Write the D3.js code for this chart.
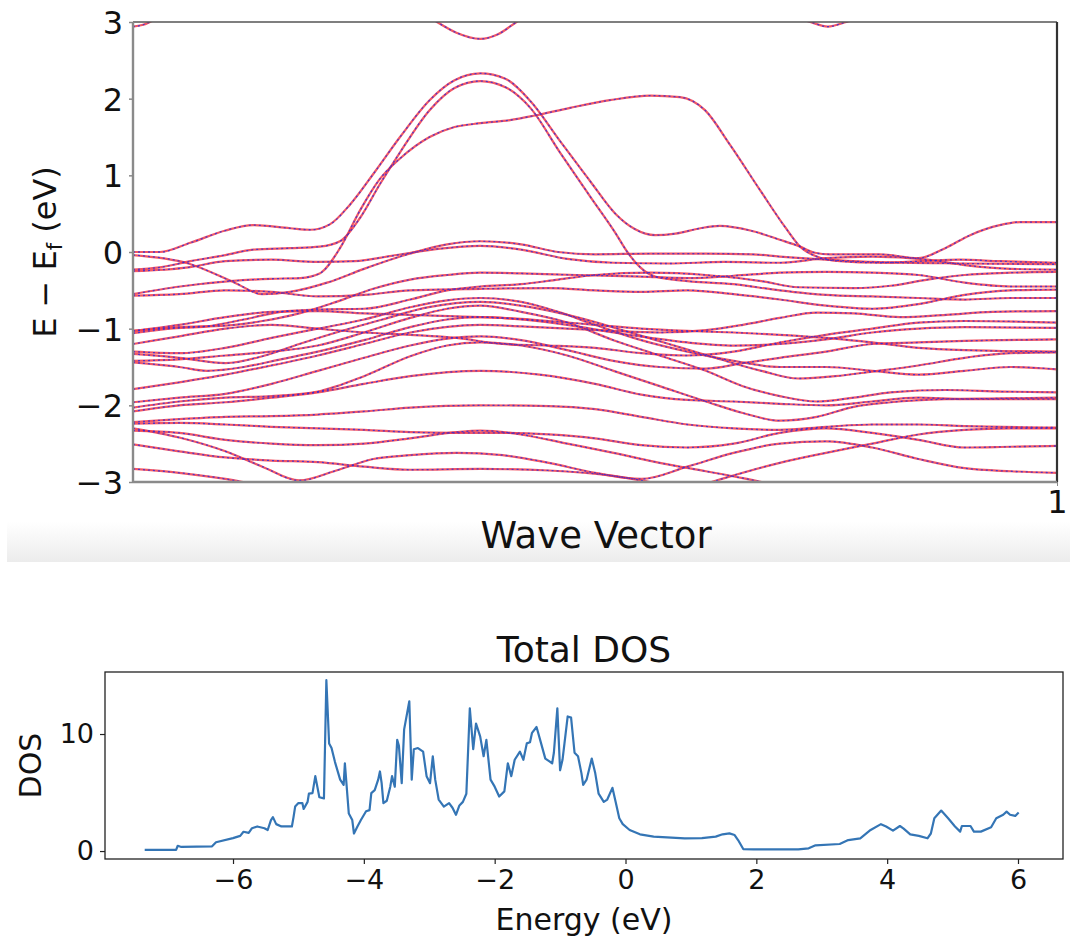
<!DOCTYPE html>
<html><head><meta charset="utf-8">
<script src="https://cdn.jsdelivr.net/npm/d3@7"></script>
<style>body{margin:0;background:#fff;} svg{display:block;font-family:"DejaVu Sans",sans-serif;}</style>
</head><body><svg id="c" width="1070" height="942"></svg>
<script>
// ---------- Band structure data: [k, E - Ef] knots ----------
const bandCT  = [[0,2.94],[0.01,2.96],[0.02,3.01],[0.035,3.1]];
const bandCD1 = [[0.31,3.15],[0.329,3.0],[0.35,2.86],[0.376,2.78],[0.395,2.84],[0.415,3.0],[0.435,3.15]];
const bandCD2 = [[0.72,3.05],[0.733,3.0],[0.752,2.94],[0.772,3.0],[0.785,3.05]];
const bandA = [[0,0.0],[0.029,0.0],[0.062,0.12],[0.1,0.28],[0.13,0.35],[0.17,0.31],[0.192,0.29],[0.213,0.36],[0.235,0.62],[0.262,1.05],[0.289,1.5],[0.321,1.98],[0.348,2.24],[0.376,2.33],[0.403,2.26],[0.43,1.97],[0.462,1.45],[0.495,0.92],[0.522,0.5],[0.543,0.3],[0.565,0.22],[0.587,0.24],[0.614,0.31],[0.635,0.34],[0.668,0.28],[0.7,0.16],[0.722,0.07],[0.738,-0.01],[0.754,-0.03],[0.808,-0.03],[0.85,-0.08],[0.879,0.05],[0.906,0.22],[0.938,0.35],[0.96,0.39],[1,0.39]];
const bandB = [[0,-0.23],[0.029,-0.2],[0.062,-0.12],[0.1,-0.04],[0.13,0.03],[0.17,0.05],[0.202,0.07],[0.224,0.14],[0.246,0.45],[0.267,0.88],[0.289,1.3],[0.321,1.85],[0.348,2.14],[0.376,2.23],[0.403,2.15],[0.43,1.88],[0.462,1.3],[0.495,0.72],[0.522,0.25],[0.535,0.0],[0.549,-0.2],[0.565,-0.32],[0.592,-0.37],[0.65,-0.42],[0.7,-0.5],[0.75,-0.56],[0.8,-0.58],[0.85,-0.6],[0.9,-0.62],[0.95,-0.6],[1,-0.6]];
const bandP = [[0,-0.55],[0.051,-0.45],[0.105,-0.38],[0.148,-0.35],[0.181,-0.34],[0.202,-0.28],[0.224,0.05],[0.246,0.55],[0.267,0.95],[0.289,1.22],[0.321,1.5],[0.348,1.63],[0.376,1.68],[0.408,1.72],[0.435,1.78],[0.473,1.88],[0.516,1.98],[0.56,2.04],[0.592,2.02],[0.619,1.85],[0.646,1.4],[0.679,0.8],[0.706,0.32],[0.722,0.07],[0.738,-0.05],[0.765,-0.12],[0.808,-0.14],[0.852,-0.12],[0.895,-0.1],[0.938,-0.12],[1,-0.14]];
const bandV1 = [[0,-0.04],[0.06,-0.15],[0.11,-0.4],[0.14,-0.55],[0.17,-0.52],[0.21,-0.4],[0.25,-0.22],[0.3,-0.02],[0.34,0.1],[0.376,0.14],[0.42,0.1],[0.46,0.0],[0.5,-0.03],[0.56,-0.02],[0.62,-0.02],[0.67,-0.03],[0.7,-0.06],[0.75,-0.1],[0.8,-0.13],[0.9,-0.15],[1,-0.16]];
const bandV2 = [[0,-0.25],[0.06,-0.2],[0.1,-0.12],[0.15,-0.1],[0.2,-0.13],[0.24,-0.12],[0.28,-0.05],[0.33,0.04],[0.376,0.08],[0.42,0.03],[0.47,-0.09],[0.52,-0.14],[0.58,-0.15],[0.64,-0.13],[0.7,-0.14],[0.75,-0.08],[0.8,-0.06],[0.86,-0.1],[0.9,-0.17],[0.95,-0.22],[1,-0.23]];
const bandV3 = [[0,-1.03],[0.05,-0.98],[0.1,-0.96],[0.14,-0.9],[0.18,-0.8],[0.22,-0.65],[0.26,-0.48],[0.3,-0.36],[0.34,-0.3],[0.376,-0.27],[0.42,-0.28],[0.48,-0.3],[0.55,-0.32],[0.6,-0.34],[0.65,-0.31],[0.7,-0.27],[0.75,-0.26],[0.8,-0.27],[0.85,-0.3],[0.9,-0.4],[0.95,-0.45],[1,-0.45]];
const bandV4 = [[0,-1.06],[0.04,-1.0],[0.08,-0.97],[0.12,-0.88],[0.16,-0.78],[0.2,-0.75],[0.25,-0.74],[0.3,-0.62],[0.34,-0.5],[0.376,-0.45],[0.42,-0.42],[0.46,-0.36],[0.5,-0.3],[0.56,-0.27],[0.62,-0.3],[0.68,-0.38],[0.72,-0.46],[0.78,-0.47],[0.82,-0.44],[0.86,-0.36],[0.9,-0.3],[0.95,-0.27],[1,-0.26]];
const bandV5 = [[0,-1.3],[0.05,-1.32],[0.1,-1.25],[0.15,-1.12],[0.2,-1.0],[0.25,-0.88],[0.3,-0.72],[0.34,-0.63],[0.376,-0.6],[0.42,-0.65],[0.46,-0.78],[0.5,-0.95],[0.55,-1.15],[0.6,-1.3],[0.65,-1.42],[0.7,-1.5],[0.75,-1.5],[0.8,-1.55],[0.85,-1.6],[0.9,-1.55],[0.95,-1.5],[1,-1.53]];
const bandV6 = [[0,-1.33],[0.05,-1.38],[0.1,-1.45],[0.14,-1.36],[0.18,-1.2],[0.22,-1.05],[0.27,-0.88],[0.32,-0.72],[0.376,-0.65],[0.43,-0.72],[0.48,-0.85],[0.53,-1.02],[0.58,-1.2],[0.63,-1.38],[0.68,-1.55],[0.72,-1.65],[0.76,-1.62],[0.8,-1.56],[0.85,-1.48],[0.9,-1.38],[0.95,-1.32],[1,-1.31]];
const bandV7 = [[0,-1.42],[0.05,-1.4],[0.1,-1.35],[0.15,-1.3],[0.2,-1.22],[0.25,-1.05],[0.3,-0.86],[0.34,-0.74],[0.376,-0.7],[0.42,-0.78],[0.47,-0.92],[0.52,-1.15],[0.57,-1.35],[0.62,-1.55],[0.66,-1.75],[0.7,-1.88],[0.74,-1.95],[0.78,-1.9],[0.82,-1.83],[0.88,-1.8],[0.94,-1.82],[1,-1.83]];
const bandV8 = [[0,-1.44],[0.05,-1.5],[0.08,-1.55],[0.12,-1.5],[0.16,-1.4],[0.2,-1.3],[0.25,-1.15],[0.3,-0.98],[0.34,-0.88],[0.376,-0.85],[0.42,-0.88],[0.47,-0.95],[0.52,-1.05],[0.56,-1.12],[0.6,-1.18],[0.65,-1.22],[0.7,-1.2],[0.75,-1.14],[0.8,-1.05],[0.85,-1.0],[0.9,-0.98],[1,-0.99]];
const bandV9 = [[0,-1.79],[0.05,-1.7],[0.1,-1.6],[0.15,-1.48],[0.2,-1.35],[0.25,-1.2],[0.3,-1.05],[0.376,-0.95],[0.42,-0.97],[0.47,-1.0],[0.52,-1.03],[0.57,-1.05],[0.62,-1.02],[0.66,-0.95],[0.7,-0.86],[0.74,-0.79],[0.78,-0.8],[0.83,-0.85],[0.88,-0.82],[0.93,-0.78],[1,-0.77]];
const bandV10 = [[0,-1.96],[0.05,-1.9],[0.1,-1.85],[0.15,-1.72],[0.2,-1.55],[0.25,-1.38],[0.3,-1.22],[0.34,-1.13],[0.376,-1.1],[0.42,-1.15],[0.47,-1.28],[0.52,-1.42],[0.57,-1.5],[0.62,-1.52],[0.66,-1.45],[0.7,-1.38],[0.75,-1.3],[0.8,-1.2],[0.85,-1.18],[0.9,-1.16],[1,-1.14]];
const bandV11 = [[0,-2.03],[0.05,-1.95],[0.1,-1.9],[0.15,-1.88],[0.2,-1.82],[0.25,-1.62],[0.3,-1.36],[0.34,-1.22],[0.376,-1.18],[0.42,-1.22],[0.47,-1.35],[0.52,-1.55],[0.57,-1.75],[0.62,-1.95],[0.66,-2.1],[0.7,-2.2],[0.74,-2.15],[0.78,-2.02],[0.82,-1.96],[0.88,-1.92],[0.94,-1.91],[1,-1.9]];
const bandV12 = [[0,-2.08],[0.05,-2.0],[0.1,-1.96],[0.15,-1.9],[0.2,-1.83],[0.25,-1.72],[0.3,-1.62],[0.376,-1.55],[0.44,-1.6],[0.5,-1.72],[0.55,-1.86],[0.6,-1.93],[0.65,-1.95],[0.7,-1.98],[0.75,-2.0],[0.8,-1.95],[0.85,-1.9],[0.9,-1.92],[1,-1.92]];
const bandV13 = [[0,-2.22],[0.05,-2.18],[0.1,-2.15],[0.15,-2.14],[0.2,-2.12],[0.25,-2.08],[0.3,-2.03],[0.376,-2.0],[0.45,-2.01],[0.5,-2.05],[0.55,-2.15],[0.6,-2.25],[0.65,-2.3],[0.7,-2.32],[0.75,-2.28],[0.8,-2.25],[0.85,-2.25],[0.9,-2.27],[1,-2.29]];
const bandV14 = [[0,-2.24],[0.05,-2.23],[0.1,-2.25],[0.15,-2.28],[0.2,-2.3],[0.25,-2.32],[0.3,-2.35],[0.35,-2.36],[0.4,-2.36],[0.45,-2.38],[0.5,-2.43],[0.55,-2.52],[0.6,-2.55],[0.65,-2.5],[0.7,-2.36],[0.75,-2.3],[0.8,-2.36],[0.85,-2.45],[0.9,-2.55],[0.95,-2.54],[1,-2.53]];
const bandV15 = [[0,-2.3],[0.05,-2.42],[0.1,-2.6],[0.14,-2.8],[0.18,-2.98],[0.22,-2.85],[0.26,-2.7],[0.3,-2.65],[0.35,-2.62],[0.4,-2.65],[0.45,-2.75],[0.5,-2.88],[0.55,-2.96],[0.6,-2.8],[0.65,-2.62],[0.7,-2.5],[0.75,-2.47],[0.8,-2.55],[0.85,-2.7],[0.9,-2.82],[0.95,-2.86],[1,-2.88]];
const bandV16 = [[0,-2.33],[0.05,-2.36],[0.1,-2.45],[0.15,-2.5],[0.2,-2.52],[0.25,-2.5],[0.3,-2.43],[0.35,-2.35],[0.376,-2.33],[0.42,-2.38],[0.47,-2.5],[0.52,-2.62],[0.57,-2.75],[0.62,-2.86],[0.66,-2.95],[0.7,-3.05],[0.72,-3.1]];
const bandV17 = [[0,-2.51],[0.05,-2.6],[0.1,-2.68],[0.15,-2.72],[0.2,-2.74],[0.25,-2.8],[0.3,-2.84],[0.376,-2.83],[0.45,-2.85],[0.52,-2.92],[0.58,-3.05],[0.6,-3.1]];
const bandV18 = [[0,-2.83],[0.05,-2.88],[0.1,-2.96],[0.14,-3.05],[0.16,-3.1]];
const bandV19 = [[0.6,-3.1],[0.64,-2.95],[0.7,-2.75],[0.75,-2.62],[0.8,-2.5],[0.85,-2.38],[0.9,-2.32],[0.95,-2.3],[1,-2.3]];
const bandV20 = [[0,-0.57],[0.05,-0.55],[0.1,-0.5],[0.15,-0.52],[0.2,-0.58],[0.25,-0.56],[0.3,-0.5],[0.376,-0.48],[0.45,-0.47],[0.5,-0.5],[0.55,-0.52],[0.6,-0.5],[0.65,-0.55],[0.7,-0.62],[0.75,-0.7],[0.8,-0.74],[0.85,-0.68],[0.9,-0.56],[0.95,-0.5],[1,-0.49]];
const bandV21 = [[0,-1.2],[0.05,-1.1],[0.1,-1.0],[0.15,-0.95],[0.2,-1.0],[0.25,-1.05],[0.3,-1.08],[0.35,-1.12],[0.4,-1.2],[0.45,-1.22],[0.5,-1.25],[0.55,-1.32],[0.6,-1.35],[0.65,-1.3],[0.7,-1.18],[0.75,-1.08],[0.8,-1.0],[0.85,-0.92],[0.9,-0.9],[1,-0.92]];
const bandV22 = [[0,-1.03],[0.05,-0.95],[0.1,-0.85],[0.15,-0.78],[0.2,-0.77],[0.25,-0.8],[0.3,-0.82],[0.35,-0.84],[0.4,-0.86],[0.45,-0.9],[0.5,-0.95],[0.55,-1.0],[0.6,-1.03],[0.65,-1.05],[0.7,-1.08],[0.75,-1.12],[0.8,-1.18],[0.85,-1.25],[0.9,-1.28],[1,-1.3]];
const bands = [bandCT,bandCD1,bandCD2,bandA,bandB,bandP,bandV1,bandV2,bandV3,bandV4,bandV5,bandV6,bandV7,bandV8,bandV9,bandV10,bandV11,bandV12,bandV13,bandV14,bandV15,bandV16,bandV17,bandV18,bandV19,bandV20,bandV21,bandV22];
const energyTicks = [-3,-2,-1,0,1,2,3];
const kTicks = [1];

// ---------- Total DOS data ----------
const dosEnergy = [-7.35,-6.87,-6.845,-6.79,-6.32,-6.26,-6.0,-5.89,-5.84,-5.76,-5.71,-5.63,-5.52,-5.47,-5.42,-5.39,-5.34,-5.26,-5.10,-5.075,-5.05,-5.0,-4.94,-4.92,-4.86,-4.84,-4.785,-4.742,-4.68,-4.61,-4.573,-4.531,-4.494,-4.441,-4.362,-4.309,-4.29,-4.23,-4.177,-4.151,-4.098,-4.045,-3.966,-3.913,-3.886,-3.834,-3.781,-3.754,-3.728,-3.701,-3.649,-3.596,-3.569,-3.527,-3.49,-3.464,-3.421,-3.384,-3.305,-3.268,-3.236,-3.173,-3.094,-3.041,-2.988,-2.946,-2.909,-2.856,-2.777,-2.697,-2.645,-2.592,-2.539,-2.486,-2.433,-2.38,-2.328,-2.285,-2.222,-2.169,-2.127,-2.063,-2.0,-1.931,-1.852,-1.799,-1.746,-1.694,-1.614,-1.561,-1.509,-1.46,-1.429,-1.36,-1.305,-1.226,-1.174,-1.121,-1.095,-1.042,-1.0,-0.963,-0.884,-0.832,-0.779,-0.726,-0.674,-0.647,-0.595,-0.516,-0.463,-0.411,-0.332,-0.279,-0.2,-0.147,-0.095,-0.042,0.063,0.221,0.43,0.905,1.168,1.379,1.484,1.589,1.668,1.721,1.8,1.958,2.642,2.8,2.905,3.274,3.405,3.589,3.747,3.905,3.984,4.089,4.195,4.247,4.353,4.484,4.616,4.668,4.721,4.826,4.932,5.037,5.116,5.142,5.274,5.326,5.432,5.589,5.668,5.774,5.826,5.879,5.958,6.01];
const dosValue = [0.1,0.1,0.45,0.35,0.4,0.75,1.1,1.3,1.65,1.55,1.95,2.1,1.95,1.8,2.65,2.9,2.3,2.1,2.1,2.9,3.8,4.1,4.1,3.6,4.2,4.9,4.95,6.4,4.6,4.5,14.6,9.2,8.8,7.6,6.1,5.65,7.5,3.2,2.65,1.5,2.1,2.65,3.4,3.5,4.95,5.2,6.1,6.8,5.8,4.1,4.3,5.5,6.4,5.5,9.5,9.0,5.8,10.4,12.8,6.1,8.7,8.8,8.5,6.4,5.8,8.1,6.1,4.4,3.8,4.1,3.7,3.1,3.9,4.2,4.9,12.2,8.7,10.9,9.8,8.1,9.5,6.1,5.5,4.66,5.1,7.5,6.4,7.8,8.5,7.8,9.2,9.3,10.1,10.6,9.5,7.9,7.7,7.5,8.4,12.2,6.9,7.8,11.5,11.4,8.4,8.1,6.66,5.66,6.1,7.9,6.66,4.9,4.2,4.4,5.4,4.1,2.8,2.3,1.8,1.43,1.23,1.09,1.1,1.23,1.43,1.51,1.37,0.94,0.17,0.14,0.14,0.23,0.49,0.6,0.94,1.09,1.8,2.3,2.1,1.74,2.14,1.94,1.43,1.3,1.09,1.5,2.8,3.46,2.8,2.1,1.66,2.14,2.14,1.66,1.66,2.03,2.8,3.1,3.37,3.1,3.0,3.29];
const dosXTicks = [-6,-4,-2,0,2,4,6];
const dosYTicks = [0,10];

// ---------- Drawing ----------
const svg = d3.select("#c");
const fmt = d => d < 0 ? "\u2212" + Math.abs(d) : String(d);
const defs = svg.append("defs");

// gray band under top figure
const grad = defs.append("linearGradient").attr("id","gband").attr("x1",0).attr("y1",0).attr("x2",0).attr("y2",1);
grad.append("stop").attr("offset","0%").attr("stop-color","#ffffff");
grad.append("stop").attr("offset","100%").attr("stop-color","#ececec");
svg.append("rect").attr("x",7).attr("y",522).attr("width",1063).attr("height",40).attr("fill","url(#gband)");

// ---- Top panel
const T = {l:133, r:1057, t:22, b:482};
const xk = d3.scaleLinear().domain([0,1]).range([T.l,T.r]);
const yE = d3.scaleLinear().domain([-3,3]).range([T.b,T.t]);
defs.append("clipPath").attr("id","clipTop").append("rect")
  .attr("x",T.l).attr("y",T.t).attr("width",T.r-T.l).attr("height",T.b-T.t);
const bandLine = d3.line().x(d=>xk(d[0])).y(d=>yE(d[1])).curve(d3.curveMonotoneX);
const gb = svg.append("g").attr("clip-path","url(#clipTop)");
bands.forEach(b => {
  gb.append("path").attr("d",bandLine(b)).attr("fill","none")
    .attr("stroke","#f03a4a").attr("stroke-width",2.2).attr("stroke-opacity",0.85);
});
bands.forEach(b => {
  gb.append("path").attr("d",bandLine(b)).attr("fill","none")
    .attr("stroke","#2a2ae0").attr("stroke-width",1.3).attr("stroke-dasharray","2,3").attr("stroke-opacity",0.8);
});

// spines
svg.append("line").attr("x1",T.l).attr("x2",T.r).attr("y1",T.t).attr("y2",T.t).attr("stroke","#555").attr("stroke-width",1.6);
svg.append("line").attr("x1",T.r).attr("x2",T.r).attr("y1",T.t).attr("y2",T.b).attr("stroke","#333").attr("stroke-width",2.2);
svg.append("line").attr("x1",T.l).attr("x2",T.l).attr("y1",T.t).attr("y2",T.b+1).attr("stroke","#8a8a8a").attr("stroke-width",2.4);
svg.append("line").attr("x1",T.l).attr("x2",T.r).attr("y1",T.b).attr("y2",T.b).attr("stroke","#8a8a8a").attr("stroke-width",2.4);

const yAx = svg.append("g").attr("transform",`translate(${T.l},0)`)
  .call(d3.axisLeft(yE).tickValues(energyTicks).tickSize(4).tickPadding(6).tickFormat(fmt));
yAx.select(".domain").remove();
yAx.selectAll("line").attr("stroke","#888").attr("stroke-width",1.5);
yAx.selectAll("text").attr("font-size",32).attr("fill","#111").attr("font-family","DejaVu Sans").attr("dy","0.36em");

const xAx = svg.append("g").attr("transform",`translate(0,${T.b})`)
  .call(d3.axisBottom(xk).tickValues(kTicks).tickSize(4).tickPadding(4).tickFormat(d3.format("d")));
xAx.select(".domain").remove();
xAx.selectAll("line").attr("stroke","#888");
xAx.selectAll("text").attr("font-size",32).attr("fill","#111").attr("font-family","DejaVu Sans");

svg.append("text").attr("x",596).attr("y",548).attr("text-anchor","middle")
  .attr("font-size",37).attr("fill","#111").text("Wave Vector");
const yl = svg.append("text").attr("transform",`translate(56,${(T.t+T.b)/2}) rotate(-90)`)
  .attr("text-anchor","middle").attr("font-size",32).attr("fill","#111");
yl.append("tspan").text("E \u2212 E");
yl.append("tspan").attr("font-size",21).attr("dy",6).text("f");
yl.append("tspan").attr("dy",-6).text(" (eV)");

// ---- DOS panel
const D = {l:105, r:1063, t:672, b:859};
const xe = d3.scaleLinear().domain([-7.957,6.688]).range([D.l,D.r]);
const yd = d3.scaleLinear().domain([-0.68,15.3]).range([D.b,D.t]);
const dosData = dosEnergy.map((e,i)=>[e,dosValue[i]]);
svg.append("path").attr("d", d3.line().x(d=>xe(d[0])).y(d=>yd(d[1]))(dosData))
  .attr("fill","none").attr("stroke","#3475b5").attr("stroke-width",2.2).attr("stroke-linejoin","round");
svg.append("rect").attr("x",D.l).attr("y",D.t).attr("width",D.r-D.l).attr("height",D.b-D.t)
  .attr("fill","none").attr("stroke","#222").attr("stroke-width",1.3);
const dx = svg.append("g").attr("transform",`translate(0,${D.b})`)
  .call(d3.axisBottom(xe).tickValues(dosXTicks).tickSize(5).tickPadding(6).tickFormat(fmt));
dx.select(".domain").remove();
dx.selectAll("line").attr("stroke","#222").attr("stroke-width",1.2);
dx.selectAll("text").attr("font-size",27).attr("fill","#111").attr("font-family","DejaVu Sans");
const dy = svg.append("g").attr("transform",`translate(${D.l},0)`)
  .call(d3.axisLeft(yd).tickValues(dosYTicks).tickSize(5).tickPadding(6).tickFormat(fmt));
dy.select(".domain").remove();
dy.selectAll("line").attr("stroke","#222").attr("stroke-width",1.2);
dy.selectAll("text").attr("font-size",27).attr("fill","#111").attr("font-family","DejaVu Sans");

svg.append("text").attr("x",(D.l+D.r)/2).attr("y",662).attr("text-anchor","middle")
  .attr("font-size",36).attr("fill","#111").text("Total DOS");
svg.append("text").attr("x",(D.l+D.r)/2).attr("y",930).attr("text-anchor","middle")
  .attr("font-size",30).attr("fill","#111").text("Energy (eV)");
svg.append("text").attr("transform",`translate(41,${(D.t+D.b)/2}) rotate(-90)`).attr("text-anchor","middle")
  .attr("font-size",30).attr("fill","#111").text("DOS");
</script></body></html>
